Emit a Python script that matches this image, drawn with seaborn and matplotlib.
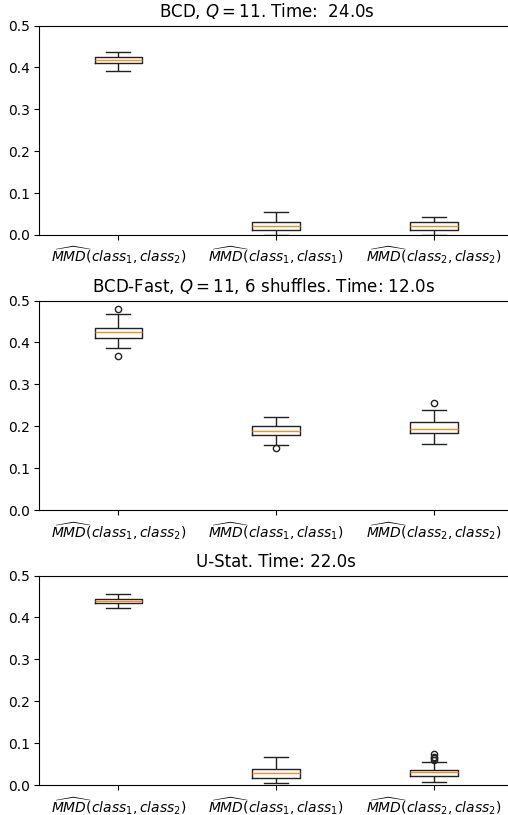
import matplotlib
matplotlib.use("Agg")
import matplotlib.pyplot as plt
import pandas as pd
import seaborn as sns

# x tick labels (pairs of classes compared)
pairs = [r'$\widehat{MMD}(class_1, class_2)$',
         r'$\widehat{MMD}(class_1, class_1)$',
         r'$\widehat{MMD}(class_2, class_2)$']

titles = ['BCD, $Q = 11$. Time:  24.0s',
          'BCD-Fast, $Q = 11$, 6 shuffles. Time: 12.0s',
          'U-Stat. Time: 22.0s']

# observed MMD estimates, read off the reference boxes
bcd_c1c2 = [0.392, 0.4095, 0.417, 0.4245, 0.436]
bcd_c1c1 = [0.0, 0.0127, 0.0207, 0.030, 0.054]
bcd_c2c2 = [0.0, 0.0127, 0.021, 0.030, 0.042]

fast_c1c2 = [0.368, 0.3856, 0.4096, 0.416, 0.424, 0.430, 0.434, 0.467, 0.480]
fast_c1c1 = [0.147, 0.156, 0.180, 0.184, 0.188, 0.194, 0.200, 0.210, 0.223]
fast_c2c2 = [0.158, 0.172, 0.184, 0.189, 0.194, 0.201, 0.209, 0.239, 0.255]

ustat_c1c2 = [0.422, 0.435, 0.440, 0.445, 0.455]
ustat_c1c1 = [0.004, 0.0175, 0.0295, 0.039, 0.066]
ustat_c2c2 = [0.0064, 0.012, 0.016, 0.019, 0.021, 0.022, 0.025, 0.027, 0.028,
              0.029, 0.030, 0.031, 0.032, 0.034, 0.035, 0.0365, 0.055,
              0.060, 0.064, 0.068, 0.074]

panels = [(bcd_c1c2, bcd_c1c1, bcd_c2c2),
          (fast_c1c2, fast_c1c1, fast_c2c2),
          (ustat_c1c2, ustat_c1c1, ustat_c2c2)]


def long_form(groups):
    rows = []
    for pair, vals in zip(pairs, groups):
        rows += [(pair, v) for v in vals]
    return pd.DataFrame(rows, columns=['pair', 'mmd'])


fig = plt.figure(figsize=(5.08, 8.15), dpi=100)
bottoms = [0.7117, 0.3742, 0.0368]
title_x = [0.48, 0.474, 0.5]

for bottom, title, tx, groups in zip(bottoms, titles, title_x, panels):
    ax = fig.add_axes([0.0776, bottom, 0.932, 0.257])
    df = long_form(groups)
    sns.boxplot(data=df, x='pair', y='mmd', order=pairs, ax=ax,
                width=0.3, fill=False, color='#222222', linewidth=1, whis=1.5,
                medianprops=dict(color='#ff8c1a'),
                flierprops=dict(marker='o', markerfacecolor='none',
                                markeredgecolor='#222222', markersize=4.5))
    ax.set_xlim(-0.5, 2.5)
    ax.set_ylim(0, 0.5)
    ax.set_xlabel('')
    ax.set_ylabel('')
    ax.set_title(title, fontsize=12, x=tx)

fig.savefig('out.png', dpi=100)
